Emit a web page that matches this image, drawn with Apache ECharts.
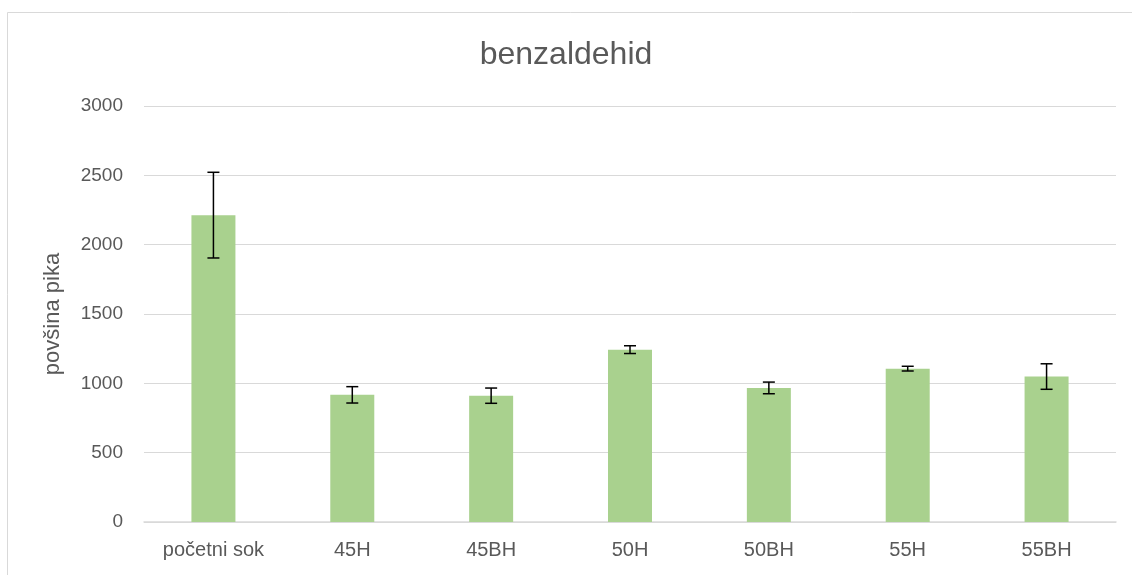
<!DOCTYPE html>
<html>
<head>
<meta charset="utf-8">
<script src="https://cdn.jsdelivr.net/npm/echarts@6/dist/echarts.min.js"></script>
<style>
  html, body { margin: 0; padding: 0; background: #ffffff; }
  #chart { width: 1132px; height: 575px; }
</style>
</head>
<body>
<div id="chart"></div>
<script>
// Peak areas per sample with standard deviations
const categories = ['početni sok', '45H', '45BH', '50H', '50BH', '55H', '55BH'];
const peakArea = [2213, 917, 911, 1243, 967, 1106, 1049];
const stdDev = [309, 59, 55, 28, 42, 17, 92];
const yTicks = { min: 0, max: 3000, interval: 500 };

const textColor = '#595959';
const font = '"Liberation Sans", Arial, sans-serif';

const errorData = categories.map((c, i) => [i, peakArea[i] - stdDev[i], peakArea[i] + stdDev[i]]);

const chart = echarts.init(document.getElementById('chart'), null, { renderer: 'canvas' });
chart.setOption({
  animation: false,
  backgroundColor: '#ffffff',
  title: {
    text: 'benzaldehid',
    left: 'center',
    top: 34,
    textStyle: { color: textColor, fontFamily: font, fontSize: 32, fontWeight: 'normal' }
  },
  graphic: [{
    type: 'rect',
    shape: { x: 7.5, y: 12.5, width: 1400, height: 800 },
    style: { fill: 'none', stroke: '#d9d9d9', lineWidth: 1 },
    silent: true
  }],
  grid: { left: 144, right: 16, top: 106, bottom: 53, containLabel: false },
  xAxis: {
    type: 'category',
    data: categories,
    axisTick: { show: false },
    axisLine: { lineStyle: { color: '#d9d9d9', width: 1.5 } },
    axisLabel: { color: textColor, fontFamily: font, fontSize: 20, margin: 18 }
  },
  yAxis: {
    type: 'value',
    min: yTicks.min,
    max: yTicks.max,
    interval: yTicks.interval,
    name: 'povšina pika',
    nameLocation: 'middle',
    nameGap: 80,
    nameTextStyle: { color: textColor, fontFamily: font, fontSize: 22 },
    axisLine: { show: false },
    axisTick: { show: false },
    splitLine: { lineStyle: { color: '#d9d9d9', width: 1 } },
    axisLabel: {
      color: textColor, fontFamily: font, fontSize: 19, margin: 21,
      formatter: function (v) { return String(v); }
    }
  },
  series: [
    {
      type: 'bar',
      data: peakArea,
      barWidth: 44,
      itemStyle: { color: '#a9d18e' },
      z: 2
    },
    {
      type: 'custom',
      data: errorData,
      z: 5,
      renderItem: function (params, api) {
        const x = api.value(0);
        const lo = api.coord([x, api.value(1)]);
        const hi = api.coord([x, api.value(2)]);
        const half = 6;
        const style = { stroke: '#000000', lineWidth: 1.5 };
        return {
          type: 'group',
          children: [
            { type: 'line', shape: { x1: hi[0], y1: hi[1], x2: lo[0], y2: lo[1] }, style: style },
            { type: 'line', shape: { x1: hi[0] - half, y1: hi[1], x2: hi[0] + half, y2: hi[1] }, style: style },
            { type: 'line', shape: { x1: lo[0] - half, y1: lo[1], x2: lo[0] + half, y2: lo[1] }, style: style }
          ]
        };
      }
    }
  ]
});
</script>
</body>
</html>
